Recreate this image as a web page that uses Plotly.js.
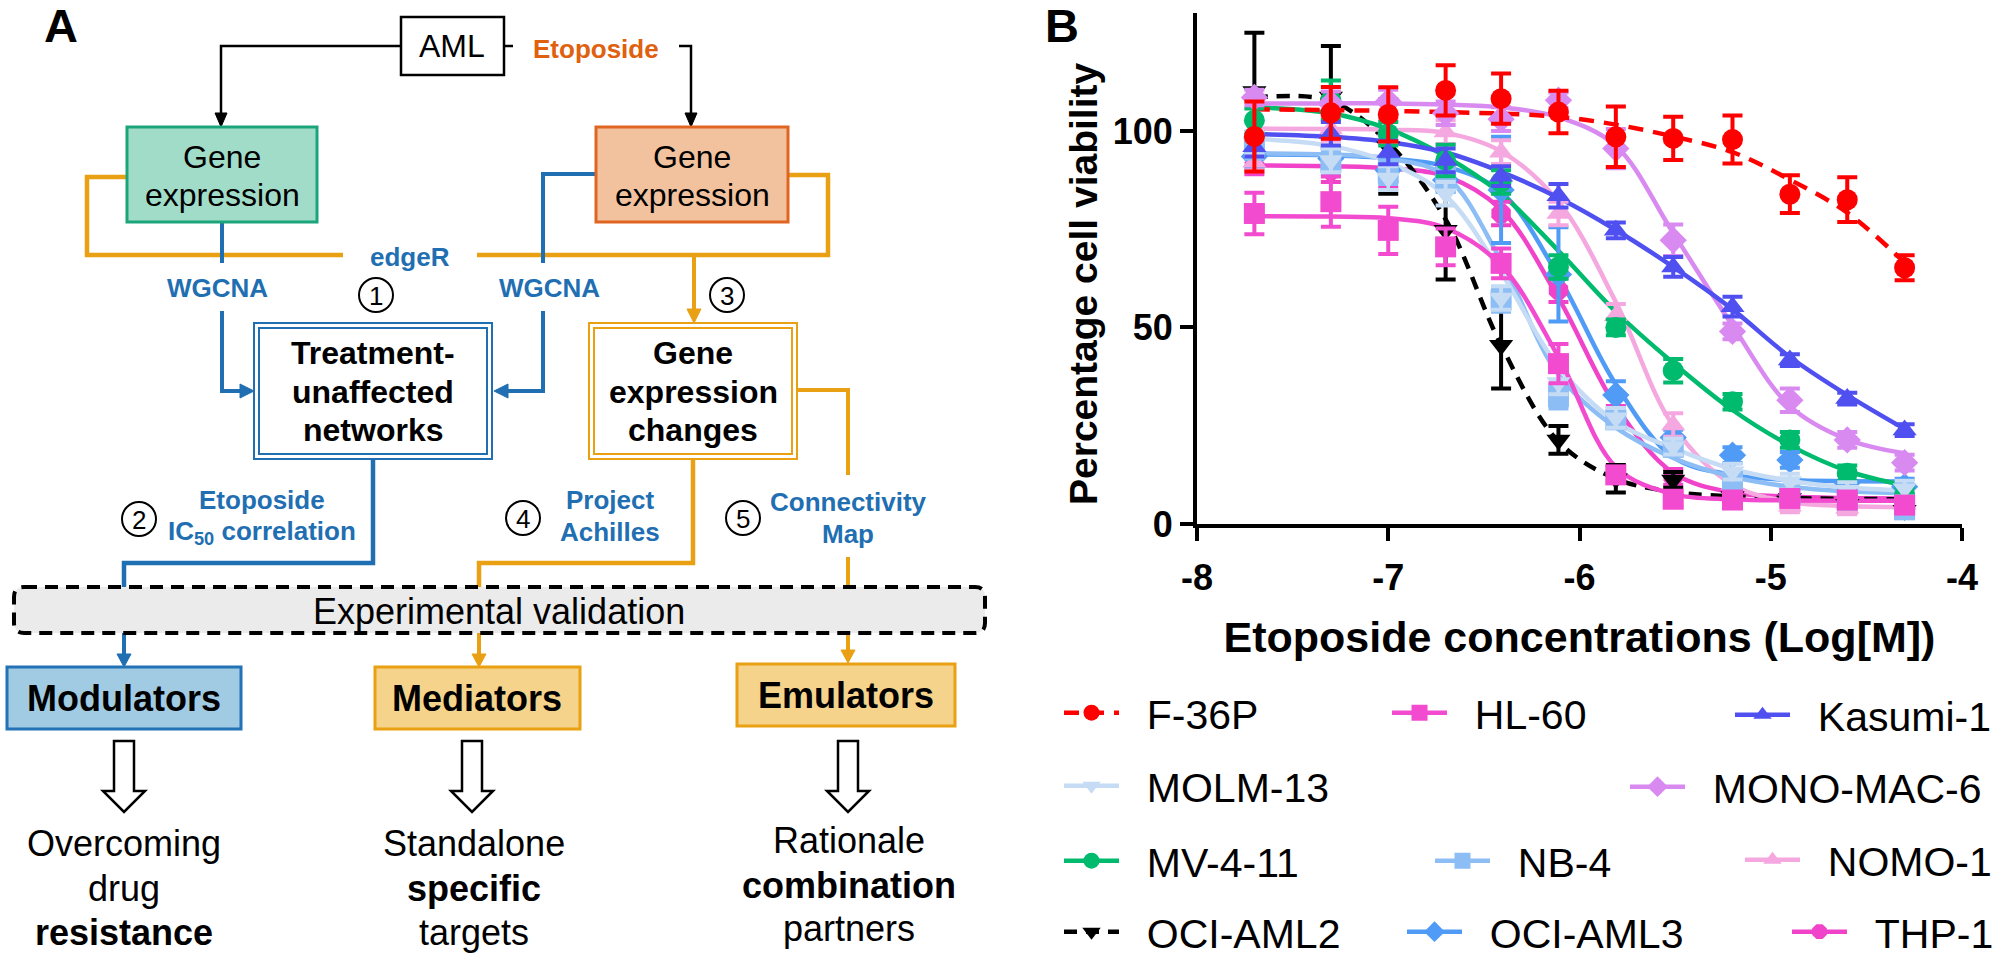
<!DOCTYPE html>
<html>
<head>
<meta charset="utf-8">
<script src="https://cdn.plot.ly/plotly-3.0.1.min.js"></script>
<style>html,body{margin:0;padding:0;background:#fff;overflow:hidden;}#chart{width:2000px;height:959px;}</style>
</head>
<body>
<div id="chart"></div>
<script>
// ---------------- DATA (panel B) ----------------
const logConc = [-7.70, -7.30, -7.00, -6.70, -6.41, -6.11, -5.81, -5.51, -5.20, -4.90, -4.60, -4.30];
const xTickVals = [-8, -7, -6, -5, -4];
const xTickText = ['-8', '-7', '-6', '-5', '-4'];
const yTickVals = [0, 50, 100];
const yTickText = ['0', '50', '100'];

const f36pMean = [98.6, 104.6, 104.2, 110.3, 108.2, 104.8, 98.5, 98.1, 97.8, 83.9, 82.5, 65.2];
const f36pErr  = [8.9, 6.6, 6.9, 6.4, 6.4, 5.4, 7.7, 5.5, 6.1, 4.8, 5.7, 3.2];
const f36pFit  = [105.5, 105.3, 105.1, 104.8, 104.4, 103.6, 101.6, 98.6, 94.6, 87.6, 79.2, 66.5];

const hl60Mean = [79.0, 82.0, 74.7, 70.5, 66.3, 40.8, 12.5, 6.3, 6.1, 6.5, 6.1, 4.8];
const hl60Err  = [5.3, 6.4, 6.0, 4.7, 3.8, 5.0, 2.0, 1.5, 1.5, 1.5, 1.5, 1.5];
const hl60Fit  = [78.3, 78.2, 77.8, 75.3, 65.8, 42.5, 14.5, 7.6, 6.3, 6.0, 5.9, 5.9];

const kasumiMean = [96.0, 99.3, 94.5, 92.5, 88.5, 83.5, 74.7, 65.4, 55.3, 41.7, 31.9, 23.9];
const kasumiErr  = [2.5, 3.0, 3.0, 3.0, 2.5, 3.0, 2.0, 2.5, 2.5, 1.5, 1.5, 1.5];
const kasumiFit  = [99.2, 98.5, 97.2, 94.5, 89.6, 83.0, 74.8, 65.4, 54.6, 42.5, 32.8, 24.2];

const molmMean = [97.0, 92.5, 88.0, 84.0, 57.5, 36.0, 27.0, 19.7, 13.3, 10.8, 8.6, 9.0];
const molmErr  = [3.0, 3.0, 3.0, 3.0, 3.0, 3.0, 2.5, 2.0, 2.0, 2.0, 2.0, 2.0];
const molmFit  = [98.0, 96.2, 92.0, 83.5, 64.0, 40.0, 26.0, 19.3, 14.0, 11.0, 9.3, 8.6];

const monoMean = [108.5, 107.0, 107.5, 104.5, 103.0, 107.8, 95.5, 72.2, 49.0, 31.5, 21.4, 15.6];
const monoErr  = [2.0, 3.0, 3.0, 3.0, 3.0, 2.0, 5.0, 4.0, 2.0, 3.0, 2.0, 2.0];
const monoFit  = [107.0, 107.0, 107.0, 106.7, 106.0, 103.5, 96.2, 74.0, 50.5, 30.0, 21.5, 18.0];

const mv411Mean = [102.7, 107.8, 99.3, 92.5, 87.0, 65.4, 50.0, 39.0, 31.1, 21.4, 12.9, 7.4];
const mv411Err  = [3.0, 5.0, 3.0, 4.0, 3.0, 3.0, 2.0, 3.0, 2.0, 2.0, 2.0, 2.0];
const mv411Fit  = [106.0, 104.5, 100.5, 93.5, 84.0, 69.5, 54.0, 41.0, 29.0, 20.0, 13.5, 9.8];

const nb4Mean = [96.0, 92.0, 89.5, 88.0, 57.0, 32.4, 26.5, 19.5, 10.8, 7.4, 6.1, 3.6];
const nb4Err  = [3.0, 3.0, 3.0, 3.0, 3.0, 3.0, 2.0, 2.0, 2.0, 2.0, 2.0, 2.0];
const nb4Fit  = [94.3, 94.0, 93.0, 88.5, 67.0, 38.0, 24.5, 16.8, 12.0, 9.5, 8.3, 7.8];

const nomoMean = [92.0, 100.5, 100.0, 99.7, 94.6, 79.0, 53.0, 25.2, 10.0, 4.5, 4.0, 5.0];
const nomoErr  = [2.0, 3.0, 3.0, 3.0, 3.0, 3.0, 3.0, 3.0, 2.0, 1.5, 1.5, 1.5];
const nomoFit  = [100.6, 100.5, 100.3, 99.5, 94.8, 82.0, 56.5, 25.0, 10.0, 5.6, 4.6, 4.3];

const aml2Mean = [110.0, 108.6, 96.0, 74.7, 45.5, 21.4, 11.5, 11.2, 7.0, 6.5, 5.0, 3.5];
const aml2Err  = [15.0, 13.0, 12.0, 12.5, 11.0, 3.5, 3.5, 2.0, 2.0, 2.0, 2.0, 2.0];
const aml2Fit  = [108.5, 107.6, 97.0, 77.5, 45.5, 21.0, 11.5, 8.2, 7.0, 6.6, 6.4, 6.3];

const aml3Mean = [93.5, 93.0, 90.0, 87.5, 85.0, 63.5, 32.8, 22.0, 17.5, 16.3, 10.5, 9.5];
const aml3Err  = [3.0, 3.0, 3.0, 3.0, 13.5, 12.0, 3.5, 2.0, 2.0, 2.0, 2.0, 2.0];
const aml3Fit  = [94.0, 93.8, 93.0, 91.0, 84.5, 63.0, 35.5, 17.0, 12.5, 11.2, 10.9, 10.8];

const thp1Mean = [91.0, 90.0, 88.5, 88.0, 79.0, 59.5, 28.0, 12.0, 8.0, 7.0, 6.5, 6.0];
const thp1Err  = [2.0, 3.0, 3.0, 3.0, 3.0, 3.0, 2.0, 2.0, 1.5, 1.5, 1.5, 1.5];
const thp1Fit  = [91.2, 91.0, 90.5, 88.5, 80.0, 57.5, 30.0, 13.0, 8.0, 7.0, 6.6, 6.5];

const cellLines = ['F-36P', 'HL-60', 'Kasumi-1', 'MOLM-13', 'MONO-MAC-6', 'MV-4-11', 'NB-4', 'NOMO-1', 'OCI-AML2', 'OCI-AML3', 'THP-1'];
const means = [f36pMean, hl60Mean, kasumiMean, molmMean, monoMean, mv411Mean, nb4Mean, nomoMean, aml2Mean, aml3Mean, thp1Mean];
const errs  = [f36pErr, hl60Err, kasumiErr, molmErr, monoErr, mv411Err, nb4Err, nomoErr, aml2Err, aml3Err, thp1Err];
const fits  = [f36pFit, hl60Fit, kasumiFit, molmFit, monoFit, mv411Fit, nb4Fit, nomoFit, aml2Fit, aml3Fit, thp1Fit];

// ---------------- STYLES ----------------
const styles = [
  {color: '#FF0000', symbol: 'circle',        dash: '15px,10px'},
  {color: '#F24BCF', symbol: 'square',        dash: 'solid'},
  {color: '#5050F0', symbol: 'triangle-up',   dash: 'solid'},
  {color: '#C6DCF5', symbol: 'triangle-down', dash: 'solid'},
  {color: '#D98AF0', symbol: 'diamond',       dash: 'solid'},
  {color: '#00BA6E', symbol: 'circle',        dash: 'solid'},
  {color: '#8DBDF5', symbol: 'square',        dash: 'solid'},
  {color: '#F5A7E0', symbol: 'triangle-up',   dash: 'solid'},
  {color: '#000000', symbol: 'triangle-down', dash: '13px,9px'},
  {color: '#4F9BF5', symbol: 'diamond',       dash: 'solid'},
  {color: '#F043C9', symbol: 'octagon',       dash: 'solid'}
];
// legend placement: [symbol left px, row centre px]
const legendSpots = [
  [1064, 713], [1392, 713], [1735, 715],
  [1064, 786], [1630, 787],
  [1064, 861], [1435, 861], [1745, 860],
  [1064, 932], [1407, 932], [1792, 932]
];

const W = 2000, H = 959;
const X = px => px / W;
const Y = py => 1 - py / H;
const FONT = 'Arial, "Liberation Sans", Helvetica, sans-serif';
const NB = '\u00A0';

// ---------------- TRACES ----------------
const traces = [];
const order = cellLines.map((_, i) => i).reverse();
order.forEach(i => {
  traces.push({
    x: logConc, y: fits[i], type: 'scatter', mode: 'lines', showlegend: false, hoverinfo: 'skip',
    line: {color: styles[i].color, width: 4.5, dash: styles[i].dash, shape: 'spline', smoothing: 1}
  });
});
order.forEach(i => {
  traces.push({
    x: logConc, y: means[i], type: 'scatter', mode: 'markers', showlegend: false, name: cellLines[i],
    marker: {symbol: styles[i].symbol, size: 21, color: styles[i].color, line: {width: 0}},
    error_y: {type: 'data', array: errs[i], visible: true, color: styles[i].color, thickness: 4, width: 10}
  });
});
const legendIds = cellLines.map((_, i) => i === 0 ? 'legend' : 'legend' + (i + 1));
cellLines.forEach((name, i) => {
  traces.push({
    x: [null], y: [null], type: 'scatter', mode: 'lines+markers', name: NB + NB + name,
    legend: legendIds[i], showlegend: true,
    line: {color: styles[i].color, width: 4.5, dash: styles[i].dash},
    marker: {symbol: styles[i].symbol, size: 21, color: styles[i].color}
  });
});

// ---------------- PANEL A (diagram) ----------------
const BLUE = '#1F6FB2', GOLD = '#E9A013', ORANGE_TXT = '#DF600E';
const shapes = [];
const annotations = [];
function pathStr(pts, closed) {
  return 'M' + pts.map(p => X(p[0]).toFixed(5) + ',' + Y(p[1]).toFixed(5)).join('L') + (closed ? 'Z' : '');
}
function line(pts, color, width, dash) {
  shapes.push({type: 'path', xref: 'paper', yref: 'paper', path: pathStr(pts, false),
    line: {color: color, width: width, dash: dash || 'solid'}, fillcolor: 'rgba(0,0,0,0)'});
}
function poly(pts, lineColor, fill, width) {
  shapes.push({type: 'path', xref: 'paper', yref: 'paper', path: pathStr(pts, true),
    line: {color: lineColor, width: width}, fillcolor: fill});
}
function rect(x0, y0, x1, y1, lineColor, fill, width) {
  shapes.push({type: 'rect', xref: 'paper', yref: 'paper', x0: X(x0), x1: X(x1), y0: Y(y1), y1: Y(y0),
    line: {color: lineColor, width: width}, fillcolor: fill});
}
function arrowHead(tx, ty, dir, color, len, half) {
  let pts;
  if (dir === 'down') pts = [[tx, ty], [tx - half, ty - len], [tx + half, ty - len]];
  if (dir === 'right') pts = [[tx, ty], [tx - len, ty - half], [tx - len, ty + half]];
  if (dir === 'left') pts = [[tx, ty], [tx + len, ty - half], [tx + len, ty + half]];
  poly(pts, color, color, 1);
}
function txt(x, y, t, size, color, bold, angle) {
  annotations.push({xref: 'paper', yref: 'paper', x: X(x), y: Y(y), text: bold ? '<b>' + t + '</b>' : t,
    showarrow: false, xanchor: 'center', yanchor: 'middle', textangle: angle || 0,
    font: {family: FONT, size: size, color: color || '#000'}});
}
function circleNum(cx, cy, n) {
  shapes.push({type: 'circle', xref: 'paper', yref: 'paper', x0: X(cx - 17), x1: X(cx + 17), y0: Y(cy + 17), y1: Y(cy - 17),
    line: {color: '#000', width: 2}, fillcolor: 'rgba(0,0,0,0)'});
  txt(cx, cy + 1, String(n), 26, '#000', false);
}
function hollowArrow(cx) {
  poly([[cx - 10, 741], [cx + 10, 741], [cx + 10, 791], [cx + 21, 791], [cx, 812], [cx - 21, 791], [cx - 10, 791]], '#000', '#fff', 2.5);
}

// black lines from AML
line([[401, 46], [221, 46], [221, 114]], '#000', 2.5);
arrowHead(221, 127, 'down', '#000', 14, 6);
line([[504, 46], [513, 46]], '#000', 2.5);
line([[679, 46], [691, 46], [691, 114]], '#000', 2.5);
arrowHead(691, 127, 'down', '#000', 14, 6);
// gold edgeR lines
line([[127, 177], [87, 177], [87, 255], [343, 255]], GOLD, 4.5);
line([[477, 255], [828, 255], [828, 175], [788, 175]], GOLD, 4.5);
line([[694, 255], [694, 311]], GOLD, 4);
arrowHead(694, 323, 'down', GOLD, 14, 7);
// blue WGCNA lines
line([[222, 222], [222, 263]], BLUE, 4);
line([[222, 311], [222, 391], [242, 391]], BLUE, 4);
arrowHead(254, 391, 'right', BLUE, 14, 7);
line([[596, 174], [543, 174], [543, 263]], BLUE, 4);
line([[543, 311], [543, 391], [506, 391]], BLUE, 4);
arrowHead(494, 391, 'left', BLUE, 14, 7);
// lines to validation
line([[373, 459], [373, 563], [124, 563], [124, 587]], BLUE, 4.5);
line([[693, 459], [693, 563], [479, 563], [479, 587]], GOLD, 4.5);
line([[797, 390], [848, 390], [848, 475]], GOLD, 4);
line([[848, 557], [848, 587]], GOLD, 4);
// arrows from validation
line([[124, 633], [124, 655]], BLUE, 4);
arrowHead(124, 667, 'down', BLUE, 13, 7);
line([[479, 633], [479, 655]], GOLD, 4);
arrowHead(479, 667, 'down', GOLD, 13, 7);
line([[848, 633], [848, 651]], GOLD, 4);
arrowHead(848, 663, 'down', GOLD, 13, 7);

// boxes
rect(401, 17, 504, 75, '#000', '#fff', 2.5);
rect(127, 127, 317, 222, '#1CA57B', '#A1DCC9', 3);
rect(596, 127, 788, 222, '#DF6520', '#F2C29E', 3);
rect(254, 323, 492, 459, BLUE, '#fff', 2);
rect(259, 328, 487, 454, BLUE, 'rgba(0,0,0,0)', 2);
rect(589, 323, 797, 459, GOLD, '#fff', 2);
rect(594, 328, 792, 454, GOLD, 'rgba(0,0,0,0)', 2);
// validation box (rounded, dashed)
(function () {
  const x0 = 14, x1 = 985, y0 = 587, y1 = 633, r = 10;
  const p = (x, y) => X(x).toFixed(5) + ',' + Y(y).toFixed(5);
  const d = 'M' + p(x0 + r, y0) + 'L' + p(x1 - r, y0) + 'Q' + p(x1, y0) + ' ' + p(x1, y0 + r) +
    'L' + p(x1, y1 - r) + 'Q' + p(x1, y1) + ' ' + p(x1 - r, y1) + 'L' + p(x0 + r, y1) +
    'Q' + p(x0, y1) + ' ' + p(x0, y1 - r) + 'L' + p(x0, y0 + r) + 'Q' + p(x0, y0) + ' ' + p(x0 + r, y0) + 'Z';
  shapes.push({type: 'path', xref: 'paper', yref: 'paper', path: d,
    line: {color: '#000', width: 4, dash: '13px,8px'}, fillcolor: '#EBEBEB'});
})();
rect(7, 667, 241, 729, '#2272B5', '#A0CBE3', 3);
rect(375, 667, 580, 729, GOLD, '#F5D38B', 3);
rect(737, 664, 955, 726, GOLD, '#F5D38B', 3);
hollowArrow(124);
hollowArrow(472);
hollowArrow(848);

// circled numbers
circleNum(376, 295, 1);
circleNum(727, 295, 3);
circleNum(139, 519, 2);
circleNum(523, 518, 4);
circleNum(743, 518, 5);

// texts
txt(61, 26, 'A', 47, '#000', true);
txt(452, 46, 'AML', 32);
txt(596, 49, 'Etoposide', 26, ORANGE_TXT, true);
txt(222, 157, 'Gene', 32); txt(222, 195, 'expression', 32);
txt(692, 157, 'Gene', 32); txt(692, 195, 'expression', 32);
txt(410, 257, 'edgeR', 26, BLUE, true);
txt(217, 288, 'WGCNA', 26, BLUE, true);
txt(549, 288, 'WGCNA', 26, BLUE, true);
txt(373, 353, 'Treatment-', 32, '#000', true);
txt(373, 392, 'unaffected', 32, '#000', true);
txt(373, 430, 'networks', 32, '#000', true);
txt(693, 353, 'Gene', 32, '#000', true);
txt(693, 392, 'expression', 32, '#000', true);
txt(693, 430, 'changes', 32, '#000', true);
txt(262, 500, 'Etoposide', 26, BLUE, true);
txt(262, 532, 'IC<sub>50</sub> correlation', 26, BLUE, true);
txt(610, 500, 'Project', 26, BLUE, true);
txt(610, 532, 'Achilles', 26, BLUE, true);
txt(848, 502, 'Connectivity', 26, BLUE, true);
txt(848, 534, 'Map', 26, BLUE, true);
txt(499, 611, 'Experimental validation', 36);
txt(124, 698, 'Modulators', 36, '#000', true);
txt(477, 698, 'Mediators', 36, '#000', true);
txt(846, 695, 'Emulators', 36, '#000', true);
txt(124, 843, 'Overcoming', 36); txt(124, 888, 'drug', 36); txt(124, 932, 'resistance', 36, '#000', true);
txt(474, 843, 'Standalone', 36); txt(474, 888, 'specific', 36, '#000', true); txt(474, 932, 'targets', 36);
txt(849, 840, 'Rationale', 36); txt(849, 885, 'combination', 36, '#000', true); txt(849, 928, 'partners', 36);
// panel B label and y-axis title
txt(1062, 26, 'B', 47, '#000', true);
txt(1083, 284, 'Percentage cell viability', 39, '#000', true, -90);

// ---------------- LAYOUT ----------------
const layout = {
  width: W, height: H,
  margin: {l: 0, r: 0, t: 0, b: 0, autoexpand: false},
  paper_bgcolor: '#fff', plot_bgcolor: '#fff',
  font: {family: FONT, color: '#000'},
  showlegend: true,
  xaxis: {
    domain: [1197 / W, 1962 / W], range: [-8, -4], tickmode: 'array', tickvals: xTickVals, ticktext: xTickText,
    ticks: 'outside', ticklen: 13, tickwidth: 4, tickcolor: '#000', ticklabelstandoff: 6,
    showline: true, linewidth: 4, linecolor: '#000', showgrid: false, zeroline: false, automargin: false,
    tickfont: {family: FONT, size: 36, weight: 'bold', color: '#000'},
    title: {text: 'Etoposide concentrations (Log[M])', font: {family: FONT, size: 43, weight: 'bold', color: '#000'}, standoff: 26}
  },
  yaxis: {
    domain: [1 - 524 / H, 1 - 13 / H], range: [0, 130], tickmode: 'array', tickvals: yTickVals, ticktext: yTickText,
    ticks: 'outside', ticklen: 13, tickwidth: 4, tickcolor: '#000', automargin: false,
    showline: true, linewidth: 4, linecolor: '#000', showgrid: false, zeroline: false,
    tickfont: {family: FONT, size: 36, weight: 'bold', color: '#000'}
  },
  shapes: shapes,
  annotations: annotations
};
legendIds.forEach((id, i) => {
  layout[id] = {
    x: X(legendSpots[i][0] - 5), xanchor: 'left', y: Y(legendSpots[i][1]), yanchor: 'middle',
    xref: 'container', yref: 'container',
    bgcolor: 'rgba(0,0,0,0)', borderwidth: 0, itemwidth: 55,
    font: {family: FONT, size: 41, color: '#000'}
  };
});

Plotly.newPlot('chart', traces, layout, {staticPlot: true, displayModeBar: false});
</script>
</body>
</html>
